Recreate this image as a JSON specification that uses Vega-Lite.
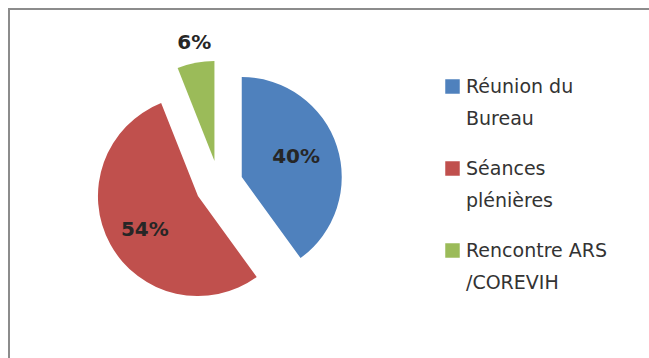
{
  "$schema": "https://vega.github.io/schema/vega-lite/v6.json",
  "width": 650,
  "height": 360,
  "autosize": {"type": "none"},
  "padding": {"left": 9, "top": 9, "right": -10, "bottom": -11},
  "background": "white",
  "view": {"stroke": "#8c8c8c", "strokeWidth": 2},
  "config": {
    "font": "DejaVu Sans",
    "style": {"guide-label": {"lineHeight": 32, "dy": -9}}
  },
  "data": {
    "values": [
      {"categorie": "Réunion du Bureau", "part": 0.40, "ordre": 1},
      {"categorie": "Séances plénières", "part": 0.54, "ordre": 2},
      {"categorie": "Rencontre ARS /COREVIH", "part": 0.06, "ordre": 3}
    ]
  },
  "encoding": {
    "theta": {"field": "part", "type": "quantitative", "stack": true},
    "order": {"field": "ordre", "type": "quantitative"},
    "color": {
      "field": "categorie",
      "type": "nominal",
      "scale": {
        "domain": ["Réunion du Bureau", "Séances plénières", "Rencontre ARS /COREVIH"],
        "range": ["#4F81BD", "#C0504D", "#9BBB59"]
      },
      "legend": {
        "orient": "none",
        "legendX": 434,
        "legendY": 68,
        "title": null,
        "padding": 0,
        "symbolType": "square",
        "symbolSize": 210,
        "symbolStrokeWidth": 0,
        "symbolOpacity": 1,
        "labelFont": "DejaVu Sans",
        "labelFontSize": 19,
        "labelColor": "#333333",
        "labelBaseline": "top",
        "labelLimit": 300,
        "rowPadding": 30,
        "labelExpr": "datum.label == 'Réunion du Bureau' ? ['Réunion du', 'Bureau'] : datum.label == 'Séances plénières' ? ['Séances', 'plénières'] : ['Rencontre ARS', '/COREVIH']"
      }
    },
    "x": {"datum": 0.323, "type": "quantitative", "scale": {"domain": [0, 1]}, "axis": null},
    "y": {"datum": 0.5125, "type": "quantitative", "scale": {"domain": [0, 1]}, "axis": null}
  },
  "layer": [
    {
      "mark": {"type": "arc", "radius": 100, "xOffset": 22.8, "yOffset": -7.4, "stroke": null},
      "encoding": {"opacity": {"condition": {"test": "datum.categorie === 'Réunion du Bureau'", "value": 1}, "value": 0}}
    },
    {
      "mark": {"type": "arc", "radius": 100, "xOffset": -21, "yOffset": 11.6, "stroke": null},
      "encoding": {"opacity": {"condition": {"test": "datum.categorie === 'Séances plénières'", "value": 1}, "value": 0}}
    },
    {
      "mark": {"type": "arc", "radius": 100, "xOffset": -4.5, "yOffset": -23.6, "stroke": null},
      "encoding": {"opacity": {"condition": {"test": "datum.categorie === 'Rencontre ARS /COREVIH'", "value": 1}, "value": 0}}
    },
    {
      "mark": {"type": "text", "radius": 58, "xOffset": 22, "yOffset": -10, "fontSize": 20, "fontWeight": "bold", "font": "DejaVu Sans"},
      "encoding": {
        "text": {"field": "part", "type": "quantitative", "format": ".0%"},
        "color": {"value": "#262626"},
        "opacity": {"condition": {"test": "datum.categorie === 'Réunion du Bureau'", "value": 1}, "value": 0}
      }
    },
    {
      "mark": {"type": "text", "radius": 64, "xOffset": -18, "yOffset": 15, "fontSize": 20, "fontWeight": "bold", "font": "DejaVu Sans"},
      "encoding": {
        "text": {"field": "part", "type": "quantitative", "format": ".0%"},
        "color": {"value": "#262626"},
        "opacity": {"condition": {"test": "datum.categorie === 'Séances plénières'", "value": 1}, "value": 0}
      }
    },
    {
      "mark": {"type": "text", "radius": 121, "xOffset": -2, "yOffset": -23, "fontSize": 20, "fontWeight": "bold", "font": "DejaVu Sans"},
      "encoding": {
        "text": {"field": "part", "type": "quantitative", "format": ".0%"},
        "color": {"value": "#262626"},
        "opacity": {"condition": {"test": "datum.categorie === 'Rencontre ARS /COREVIH'", "value": 1}, "value": 0}
      }
    }
  ]
}
